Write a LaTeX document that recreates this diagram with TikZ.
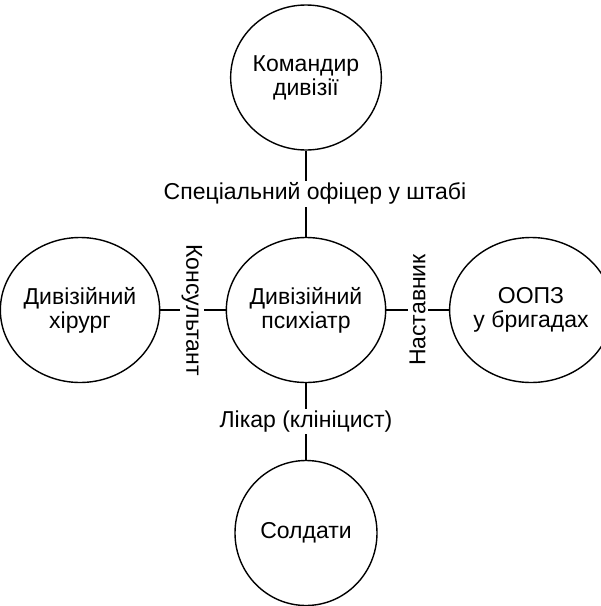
\documentclass[tikz,border=0pt]{standalone}
\usepackage{fontspec}
\setmainfont{Liberation Sans}
\usetikzlibrary{shapes.geometric}
\tikzset{
  unit/.style={ellipse, draw, line width=1.4pt, minimum width=142pt, minimum height=145pt, inner sep=0pt, align=center, font=\fontsize{23}{24}\selectfont},
  link/.style={line width=2.2pt},
  lab/.style={fill=white, inner sep=2pt, font=\fontsize{23}{24}\selectfont}
}
\begin{document}
\begin{tikzpicture}[x=1pt, y=-1pt]
\useasboundingbox (0,0) rectangle (601,606);
\node[unit] (top) at (306,77.5) {Командир\\дивізії};
\node[unit] (c) at (306,310) {Дивізійний\\психіатр};
\node[unit] (l) at (80,310) {Дивізійний\\хірург};
\node[unit] (r) at (531,310) {ООПЗ\\у бригадах};
\node[unit] (b) at (306,533) {Солдати};
\draw[link] (top) -- node[lab, xshift=9pt] {Спеціальний офіцер у штабі} (c);
\draw[link] (l) -- node[lab, rotate=-90, yshift=-1pt] {Консультант} (c);
\draw[link] (c) -- node[lab, rotate=90] {Наставник} (r);
\draw[link] (c) -- node[lab] {Лікар (клініцист)} (b);
\end{tikzpicture}
\end{document}
